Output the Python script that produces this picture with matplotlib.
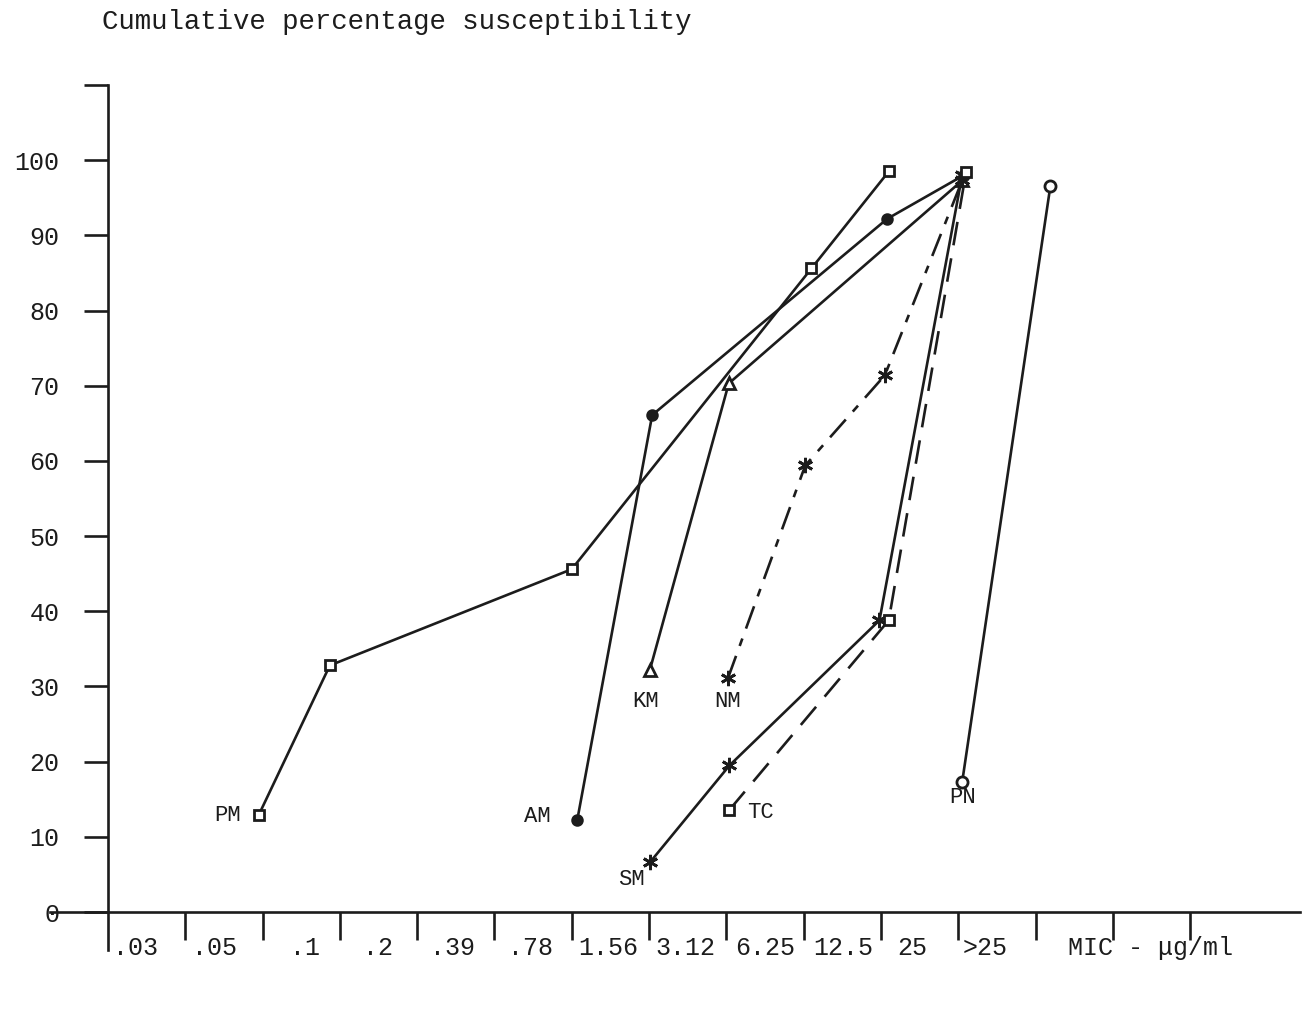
import matplotlib
matplotlib.use("Agg")
import matplotlib.pyplot as plt

# ── Data (x = position on the MIC scale, tick index; y = cumulative %) ─────────
mic_labels = [".03", ".05", ".1", ".2", ".39", ".78", "1.56", "3.12",
              "6.25", "12.5", "25", ">25", "MIC - \u03bcg/ml"]
mic_label_pos = [0.35, 1.38, 2.55, 3.49, 4.46, 5.46, 6.47, 7.47,
                 8.5, 9.51, 10.4, 11.35, 13.48]
y_ticks = [0, 10, 20, 30, 40, 50, 60, 70, 80, 90, 100, 110]
y_labels = ["0", "10", "20", "30", "40", "50", "60", "70", "80", "90", "100", ""]

pm_x = [1.95, 2.87, 6.0, 9.1, 10.1]
pm_y = [12.9, 32.8, 45.6, 85.6, 98.5]
am_x = [6.07, 7.04, 10.08, 11.07]
am_y = [12.2, 66.1, 92.2, 98.0]
km_x = [7.01, 8.03, 11.05]
km_y = [32.2, 70.3, 97.3]
nm_x = [8.02, 9.02, 10.05, 11.05]
nm_y = [31.1, 59.4, 71.4, 97.3]
sm_x = [7.01, 8.04, 9.98, 11.05]
sm_y = [6.6, 19.5, 38.8, 98.0]
tc_x = [8.04, 10.1, 11.1]
tc_y = [13.6, 38.8, 98.4]
pn_x = [11.05, 12.19]
pn_y = [17.3, 96.5]

INK = "#1c1c1c"
FONT = "Liberation Mono"

fig = plt.figure(figsize=(13.13, 10.15), dpi=100)
ax = fig.add_axes([50 / 1313, 1 - 950 / 1015, 1250 / 1313, 865 / 1015])
ax.set_xlim(-0.75, 15.42)
ax.set_ylim(-5.05, 110)

lw = 1.9
# (name, x, y, marker, size, filled, linestyle, label offset pts, ha)
series = [
    ("PM", pm_x, pm_y, "s", 6.5, False, "-", (-13, 0), "right"),
    ("AM", am_x, am_y, "o", 7, True, "-", (-19, 3), "right"),
    ("KM", km_x, km_y, "^", 8, False, "-", (-3, -23), "center"),
    ("NM", nm_x, nm_y, (6, 2, 0), 11, True, (0, (9, 4, 3, 4)), (0, -17), "center"),
    ("SM", sm_x, sm_y, (6, 2, 0), 11, True, "-", (-13, -12), "center"),
    ("TC", tc_x, tc_y, "s", 7, False, (0, (9, 5)), (13, -2), "left"),
    ("PN", pn_x, pn_y, "o", 8, False, "-", (0, -11), "center"),
]
for name, xs, ys, mk, ms, filled, ls, off, ha in series:
    ax.plot(xs, ys, color=INK, lw=lw, linestyle=ls, marker=mk, markersize=ms,
            markerfacecolor=INK if filled else "white",
            markeredgecolor=INK, markeredgewidth=2, zorder=3)
    ax.annotate(name, (xs[0], ys[0]), xytext=off, textcoords="offset points",
                ha=ha, va="center", fontsize=16, family=FONT, color=INK)

# ── Axes styling: hand-drawn look with spines through the origin ──────────────
for side in ("top", "right"):
    ax.spines[side].set_visible(False)
ax.spines["left"].set_position(("data", 0))
ax.spines["bottom"].set_position(("data", 0))
for side in ("left", "bottom"):
    ax.spines[side].set_linewidth(1.9)
    ax.spines[side].set_color(INK)

ax.set_xticks(range(1, 15))
ax.set_xticklabels([])
ax.set_xticks(mic_label_pos, minor=True)
ax.set_xticklabels(mic_labels, minor=True, fontsize=18, family=FONT, color=INK)
ax.tick_params(axis="x", which="major", direction="out", length=20, width=1.9, color=INK)
ax.tick_params(axis="x", which="minor", length=0, pad=17)

ax.set_yticks(y_ticks)
ax.set_yticklabels(y_labels, fontsize=18, family=FONT, color=INK)
ax.tick_params(axis="y", direction="out", length=17, width=1.9, color=INK, pad=18)

fig.text(102 / 1313, 1 - 22 / 1015, "Cumulative percentage susceptibility",
         fontsize=19.7, family=FONT, color=INK, va="center", ha="left")

fig.savefig("out.png", dpi=100, facecolor="white")
plt.close(fig)
